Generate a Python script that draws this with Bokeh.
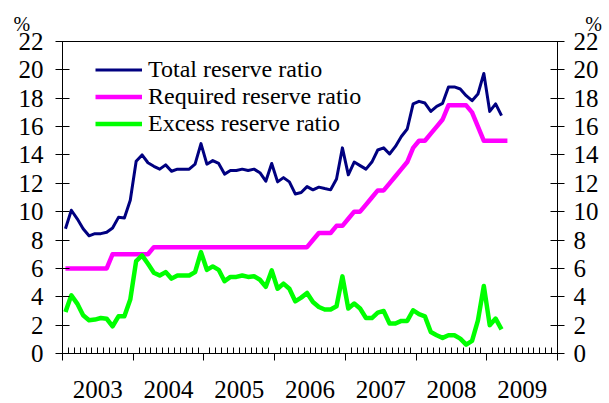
from bokeh.plotting import figure
from bokeh.models import LinearAxis, FixedTicker, Legend, LegendItem, Range1d
from bokeh.embed import file_html
from bokeh.resources import INLINE

# ---- data (monthly, starting Jan 2003) ----
years = ["2003", "2004", "2005", "2006", "2007", "2008", "2009"]
y_ticks = [0, 2, 4, 6, 8, 10, 12, 14, 16, 18, 20, 22]

total = [8.8, 10.1, 9.5, 8.8, 8.3, 8.45, 8.45, 8.55, 8.85, 9.6,
         9.55, 10.8, 13.55, 14.0, 13.45, 13.2, 13.0, 13.3, 12.85, 13.0,
         13.0, 13.0, 13.35, 14.8, 13.35, 13.6, 13.4, 12.65, 12.9, 12.9,
         13.0, 12.9, 13.0, 12.75, 12.15, 13.4, 12.1, 12.4, 12.1, 11.25,
         11.35, 11.77, 11.54, 11.73, 11.63, 11.54, 12.3, 14.5, 12.6, 13.5,
         13.25, 13.0, 13.5, 14.35, 14.5, 14.07, 14.6, 15.3, 15.83, 17.6,
         17.78, 17.66, 17.07, 17.43, 17.64, 18.8, 18.8, 18.65, 18.18, 17.83,
         18.3, 19.75, 17.07, 17.6, 16.77]

required = [6, 6, 6, 6, 6, 6, 6, 6, 7, 7,
            7, 7, 7, 7, 7, 7.5, 7.5, 7.5, 7.5, 7.5,
            7.5, 7.5, 7.5, 7.5, 7.5, 7.5, 7.5, 7.5, 7.5, 7.5,
            7.5, 7.5, 7.5, 7.5, 7.5, 7.5, 7.5, 7.5, 7.5, 7.5,
            7.5, 7.5, 8, 8.5, 8.5, 8.5, 9, 9, 9.5, 10,
            10, 10.5, 11, 11.5, 11.5, 12, 12.5, 13, 13.5, 14.5,
            15, 15, 15.5, 16, 16.5, 17.5, 17.5, 17.5, 17.5, 17,
            16, 15, 15, 15, 15, 15]

excess = [2.93, 4.1, 3.52, 2.7, 2.34, 2.39, 2.5, 2.45, 1.92, 2.62,
          2.62, 3.8, 6.52, 6.92, 6.33, 5.7, 5.5, 5.74, 5.28, 5.5,
          5.5, 5.5, 5.74, 7.15, 5.9, 6.14, 5.9, 5.1, 5.4, 5.4,
          5.5, 5.4, 5.45, 5.2, 4.7, 5.86, 4.57, 4.93, 4.57, 3.68,
          3.94, 4.27, 3.63, 3.28, 3.1, 3.1, 3.33, 5.44, 3.17, 3.52,
          3.17, 2.5, 2.5, 2.88, 3.0, 2.11, 2.11, 2.3, 2.3, 3.05,
          2.77, 2.62, 1.52, 1.29, 1.1, 1.29, 1.29, 1.05, 0.63, 0.89,
          2.34, 4.76, 2.0, 2.46, 1.7]

unit_label = "%"

FONT = "Liberation Serif"
FS = "24px"
TICK_FS = "25px"
n_months = 12 * len(years)


def months(series):
    # category centre of each month
    return [i + 0.5 for i in range(len(series))]


p = figure(width=609, height=403, output_backend="svg", toolbar_location=None,
           x_range=Range1d(0, n_months), y_range=Range1d(0, 22),
           x_axis_location=None, y_axis_location=None,
           min_border_left=62, min_border_right=52,
           min_border_top=41, min_border_bottom=50)
p.xgrid.grid_line_color = None
p.ygrid.grid_line_color = None
p.outline_line_color = "black"
p.outline_line_width = 1
p.background_fill_color = "white"
p.border_fill_color = "white"

# "%" unit markers above both value axes (one title line, non-breaking spaces between)
p.title.text = unit_label + "\u00a0" * 111 + unit_label
p.title.align = "left"
p.title.offset = -49
p.title.text_font = FONT
p.title.text_font_size = "20px"
p.title.text_font_style = "normal"
p.title.text_color = "black"
p.title.standoff = 13
p.title.vertical_align = "bottom"


def style_y(ax, standoff):
    ax.ticker = FixedTicker(ticks=y_ticks)
    ax.major_tick_in = 7
    ax.major_tick_out = 7
    ax.minor_tick_line_color = None
    ax.major_label_standoff = standoff
    ax.major_label_text_font = FONT
    ax.major_label_text_font_size = TICK_FS
    ax.major_label_text_color = "black"
    ax.axis_line_color = "black"
    ax.major_tick_line_color = "black"


left = LinearAxis()
style_y(left, 12)
right = LinearAxis()
style_y(right, 9)
p.add_layout(left, "left")
p.add_layout(right, "right")

# month ticks pointing into the plot, drawn at y = 0 (takes no layout space)
month_axis = LinearAxis(
    ticker=FixedTicker(ticks=[], minor_ticks=[m for m in range(n_months + 1) if m % 12]),
    fixed_location=0, minor_tick_in=6, minor_tick_out=0,
    axis_line_color="black", minor_tick_line_color="black",
    major_tick_line_color=None)
p.add_layout(month_axis, "below")

# year labels centred in each year, year-boundary ticks pointing outwards
year_axis = LinearAxis(
    ticker=FixedTicker(ticks=[12 * k + 6 for k in range(len(years))],
                       minor_ticks=[12 * k for k in range(len(years) + 1)]),
    major_label_overrides={12 * k + 6: yr for k, yr in enumerate(years)},
    major_tick_line_color=None, major_tick_in=0, major_tick_out=0,
    minor_tick_in=0, minor_tick_out=7, minor_tick_line_color="black",
    axis_line_color="black", major_label_standoff=20,
    major_label_text_font=FONT, major_label_text_font_size=TICK_FS,
    major_label_text_color="black")
p.add_layout(year_axis, "below")

r1 = p.line(months(total), total, line_color="#000080", line_width=3, line_join="round")
r2 = p.line(months(required), required, line_color="#FF00FF", line_width=4.5, line_join="round")
r3 = p.line(months(excess), excess, line_color="#00FF00", line_width=4.5, line_join="round")

legend = Legend(items=[LegendItem(label="Total reserve ratio", renderers=[r1]),
                       LegendItem(label="Required reserve ratio", renderers=[r2]),
                       LegendItem(label="Excess reserve ratio", renderers=[r3])],
                location=(33, 216), padding=0, margin=0, spacing=0,
                glyph_width=47, glyph_height=27, label_height=27,
                label_standoff=6, label_text_font=FONT, label_text_font_size=FS,
                label_text_color="black",
                border_line_color=None, background_fill_alpha=0)
p.add_layout(legend)

open("out.html", "w").write(file_html(p, INLINE))
